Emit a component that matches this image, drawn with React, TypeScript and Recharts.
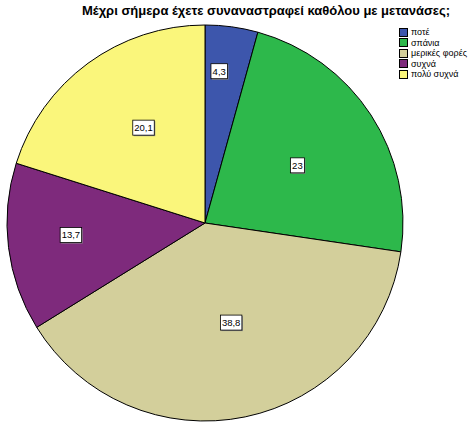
import { PieChart, Pie, Cell, Legend } from 'recharts';

// answer categories and percentages
const categories = ['ποτέ', 'σπάνια', 'μερικές φορές', 'συχνά', 'πολύ συχνά'];
const percents = [4.3, 23, 38.8, 13.7, 20.1];
const labels = ['4,3', '23', '38,8', '13,7', '20,1'];
const colors = ['#3D56AC', '#2DB84B', '#D3CF9B', '#7E2A7C', '#FAF67B'];

// where SPSS put the value boxes (fraction of radius, angle nudge in degrees)
const labelRadius = [0.77, 0.55, 0.52, 0.68, 0.573];
const labelNudge = [2.4, -1.1, 3, -2, -3.4];

const data = categories.map((name, i) => ({ name, value: percents[i], label: labels[i] }));

const RADIAN = Math.PI / 180;
const FONT = 'Liberation Sans, Arial, sans-serif';

const textWidth = (s: string) =>
  s.split('').reduce((w, ch) => w + (ch === ',' ? 2.5 : 5), 0);

const renderLabel = (props: any) => {
  const { cx, cy, midAngle, outerRadius, index } = props;
  const a = (midAngle + labelNudge[index]) * RADIAN;
  const r = outerRadius * labelRadius[index];
  const x = cx + r * Math.cos(a);
  const y = cy - r * Math.sin(a);
  const text = labels[index];
  const w = textWidth(text) + 4;
  const h = 15;
  return (
    <g>
      <rect x={x - w / 2 + 1} y={y - h / 2 + 1} width={w} height={h} fill="#8a8a8a" />
      <rect x={x - w / 2} y={y - h / 2} width={w} height={h} fill="#fff" stroke="#000" strokeWidth={0.8} />
      <text x={x} y={y + 3.3} textAnchor="middle" fontSize={9.5} fontFamily={FONT} fill="#000">
        {text}
      </text>
    </g>
  );
};

const LegendBox = () => (
  <div style={{ fontFamily: FONT, fontSize: 9, lineHeight: '10.5px' }}>
    {categories.map((c, i) => (
      <div key={c} style={{ display: 'flex', alignItems: 'center', height: 10.5 }}>
        <span
          style={{
            display: 'inline-block',
            boxSizing: 'border-box',
            width: 9,
            height: 9,
            background: colors[i],
            border: '1px solid #000',
            marginRight: 3,
          }}
        />
        <span>{c}</span>
      </div>
    ))}
  </div>
);

export default function App() {
  return (
    <div style={{ position: 'absolute', left: 0, top: 0, width: 471, height: 423, background: '#fff' }}>
      <div
        style={{
          position: 'absolute',
          left: 0,
          top: 3,
          width: 532,
          textAlign: 'center',
          fontFamily: FONT,
          fontWeight: 'bold',
          fontSize: 13,
          zIndex: 2,
        }}
      >
        Μέχρι σήμερα έχετε συναναστραφεί καθόλου με μετανάσες;
      </div>
      <PieChart width={471} height={423} margin={{ top: 0, right: 0, bottom: 0, left: 0 }}>
        <Pie
          data={data}
          dataKey="value"
          nameKey="name"
          cx={205}
          cy={223}
          outerRadius={198}
          startAngle={90}
          endAngle={-270}
          stroke="#000"
          strokeWidth={1}
          label={renderLabel}
          labelLine={false}
          isAnimationActive={false}
        >
          {data.map((d, i) => (
            <Cell key={d.name} fill={colors[i]} />
          ))}
        </Pie>
        <Legend
          layout="vertical"
          align="right"
          verticalAlign="top"
          content={<LegendBox />}
          wrapperStyle={{ position: 'absolute', top: 27, left: 399, width: 72 }}
        />
      </PieChart>
    </div>
  );
}
